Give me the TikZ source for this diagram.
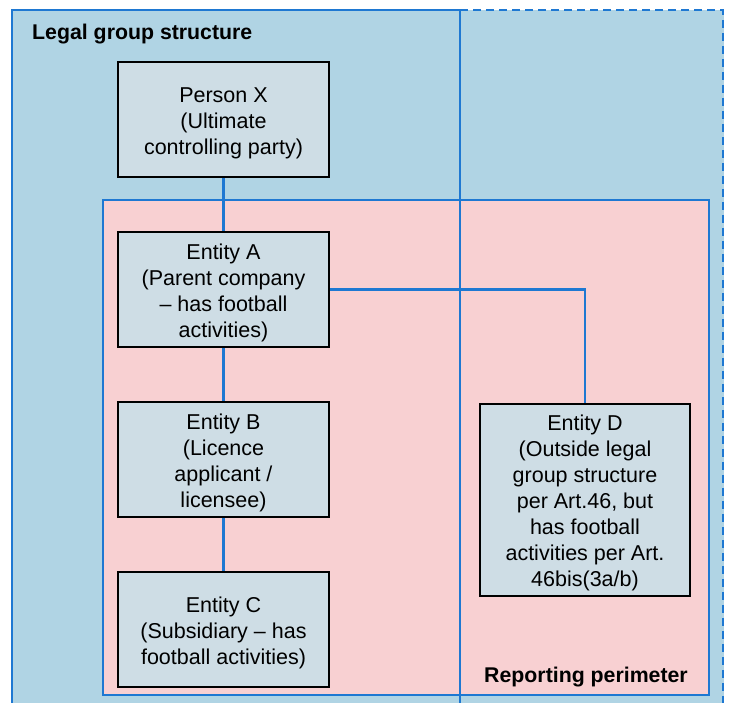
\documentclass[tikz,border=0pt]{standalone}
\usepackage{fontspec}
\setmainfont{Liberation Sans}
\definecolor{outerblue}{HTML}{B0D4E4}
\definecolor{pinkfill}{HTML}{F8D0D2}
\definecolor{boxfill}{HTML}{CEDDE5}
\definecolor{lineblue}{HTML}{1E78D2}
\newcommand\tallstrut{\rule{0pt}{21.5pt}}
\begin{document}
\begin{tikzpicture}[x=1pt,y=-1pt,
  entity/.style={draw=black, line width=2.4pt, fill=boxfill, minimum width=211pt, minimum height=115pt, inner sep=0pt, align=center, font=\fontsize{21.5}{26}\selectfont},
  link/.style={draw=lineblue, line width=2.2pt},
  frame/.style={draw=lineblue, line width=2.2pt},
  title/.style={font=\bfseries\fontsize{21.3}{25}\selectfont, inner sep=0pt}]
\useasboundingbox (0,0) rectangle (730,702);
% outer legal group area
\fill[outerblue] (12,10) rectangle (724,712);
\draw[frame] (12,712) -- (12,10) -- (460,10);
\draw[frame, dash pattern=on 8pt off 5pt] (460,10) -- (723,10) -- (723,712);
% reporting perimeter
\draw[frame, fill=pinkfill] (103,200) rectangle (709,695);
\draw[frame] (460,10) -- (460,712);
% titles
\node[title, anchor=west] (lgs) at (32,34) {Legal group structure};
\node[title, anchor=east] (rp) at (688,677) {Reporting perimeter};
% entities
\node[entity] (X) at (223.5,119.5) {\tallstrut Person X\\(Ultimate\\controlling party)};
\node[entity] (A) at (223.5,289.5) {\tallstrut Entity A\\(Parent company\\– has football\\activities)};
\node[entity] (B) at (223.5,459.5) {\tallstrut Entity B\\(Licence\\applicant /\\licensee)};
\node[entity] (C) at (223.5,629.5) {\tallstrut Entity C\\(Subsidiary – has\\football activities)};
\node[entity, minimum height=192pt, minimum width=210pt] (D) at (585,500) {\tallstrut Entity D\\(Outside legal\\group structure\\per Art.46, but\\has football\\activities per Art.\\46bis(3a/b)};
% connectors
\draw[link] (X.south) -- (A.north);
\draw[link] (A.south) -- (B.north);
\draw[link] (B.south) -- (C.north);
\draw[link] (A.east) -| (D.north);
\end{tikzpicture}
\end{document}
